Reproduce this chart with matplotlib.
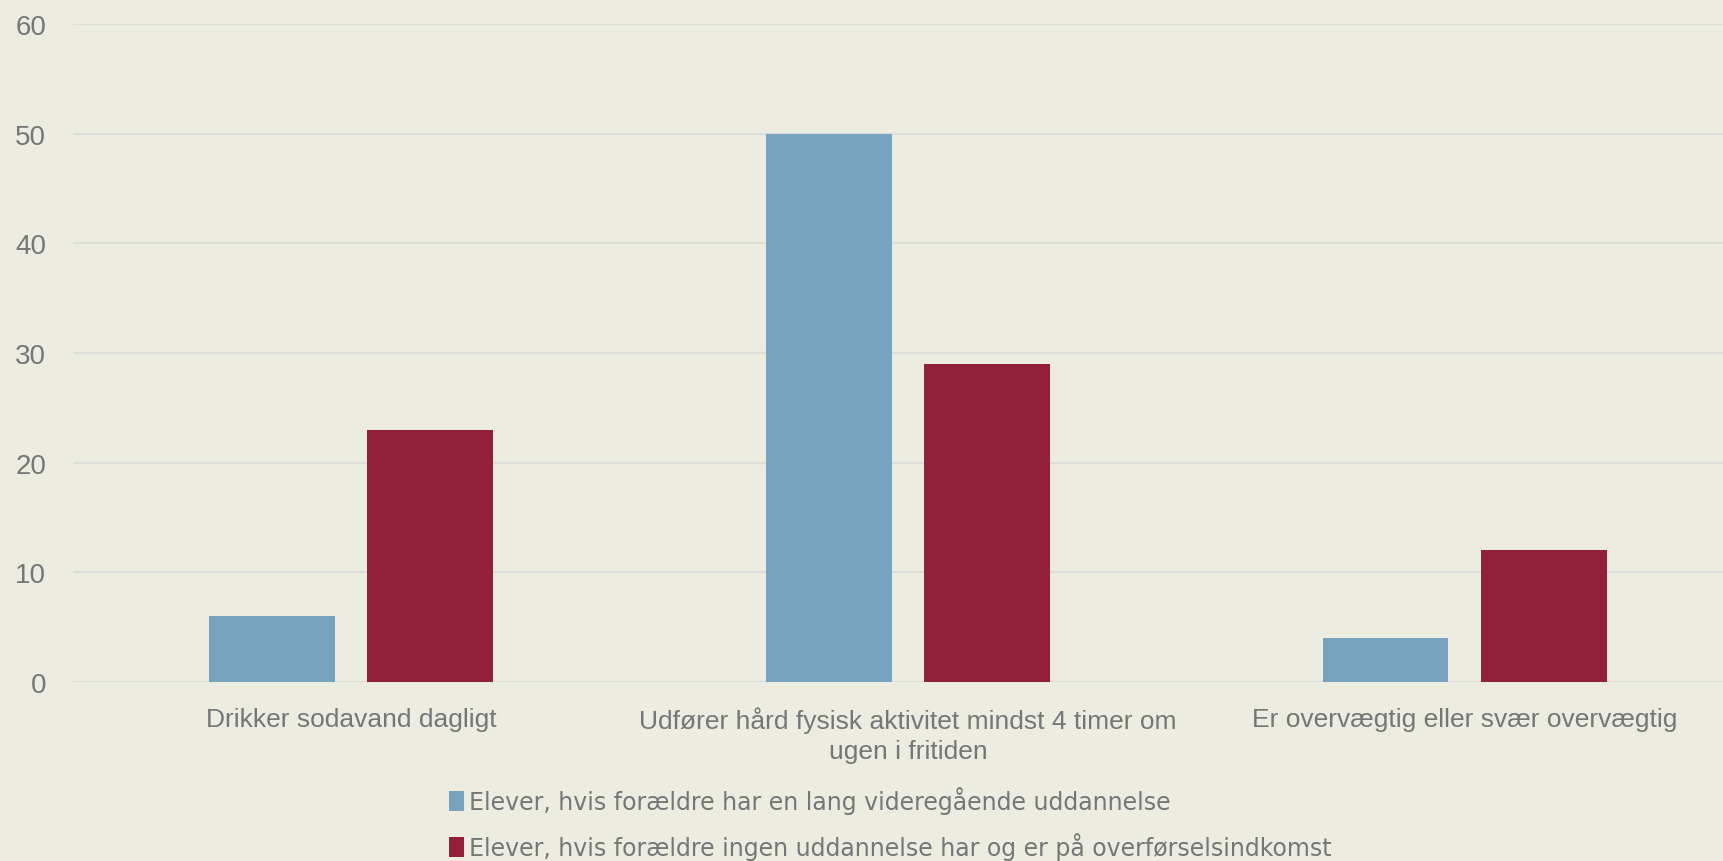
import matplotlib
matplotlib.use("Agg")
import matplotlib.pyplot as plt
import numpy as np

categories = ["Drikker sodavand dagligt",
              "Udfører hård fysisk aktivitet mindst 4 timer om\nugen i fritiden",
              "Er overvægtig eller svær overvægtig"]
series_names = ["Elever, hvis forældre har en lang videregående uddannelse",
                "Elever, hvis forældre ingen uddannelse har og er på overførselsindkomst"]
values_long = [6, 50, 4]
values_none = [23, 29, 12]
yticks = [0, 10, 20, 30, 40, 50, 60]

bg = "#EDECE1"
blue = "#76A3BD"
red = "#912038"
txt = "#767676"
grid = "#DCDCDA"

W, H = 1724, 862
fig = plt.figure(figsize=(W/100, H/100), dpi=100, facecolor=bg)
ax_left = 72.6
ax_w = 3 * 506.5 * (W / 1568)
ax = fig.add_axes([ax_left/W, 1-682.8/H, ax_w/W, (682.8-25.3)/H])
ax.set_facecolor(bg)

x = np.arange(len(categories))
bw = 0.225
off = bw/2 + 0.0295
ax.bar(x - off, values_long, bw, color=blue, label=series_names[0], zorder=3)
ax.bar(x + off, values_none, bw, color=red, label=series_names[1], zorder=3)

ax.set_xlim(-0.5, 2.5)
ax.set_ylim(0, 60)
ax.set_yticks(yticks)
ax.yaxis.grid(True, color=grid, linewidth=1.5, zorder=0)
ax.set_axisbelow(True)
for s in ax.spines.values():
    s.set_visible(False)
ax.tick_params(axis='both', length=0, colors=txt)
ax.tick_params(axis='y', labelsize=20, pad=19)
ax.tick_params(axis='x', labelsize=19, pad=18)
ax.set_xticks(x)
ax.set_xticklabels(categories, fontfamily="Liberation Sans", linespacing=1.3)
for lab in ax.get_yticklabels():
    lab.set_fontfamily("Liberation Sans")

leg = fig.legend(loc="upper left", bbox_to_anchor=(449/W, 1-787/H), frameon=False,
                 prop={"family": "Liberation Sans Narrow", "size": 17},
                 handlelength=0.65, handleheight=0.9, handletextpad=0.2,
                 labelspacing=0.78, borderpad=0, borderaxespad=0)
for t in leg.get_texts():
    t.set_color(txt)

fig.savefig("out.png", dpi=100, facecolor=bg)
